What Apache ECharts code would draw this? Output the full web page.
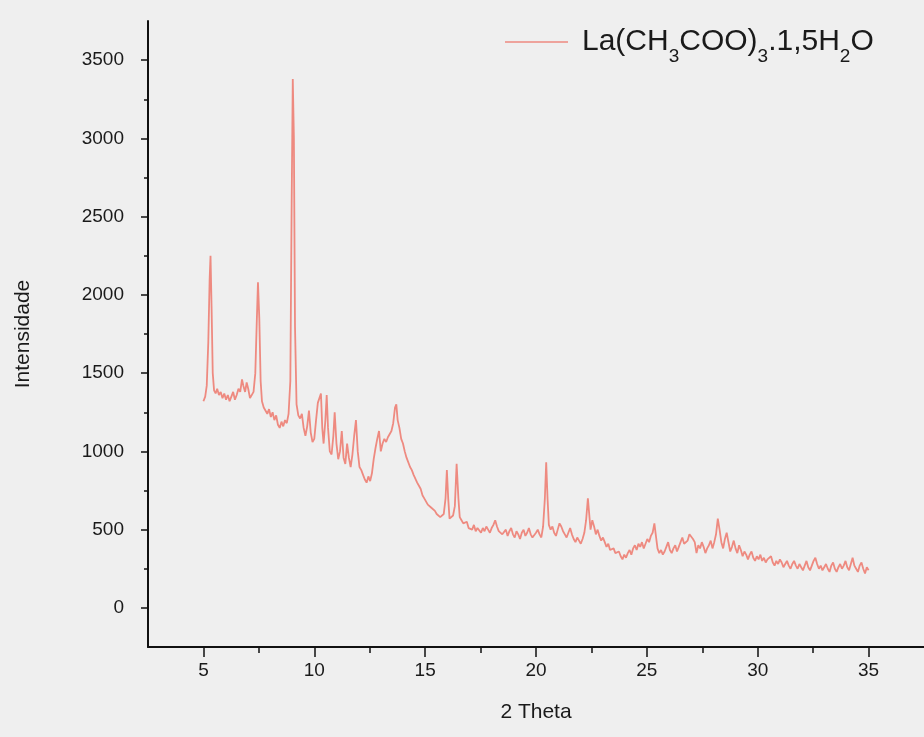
<!DOCTYPE html>
<html>
<head>
<meta charset="utf-8">
<title>DRX La(CH3COO)3.1,5H2O</title>
<script src="https://cdn.jsdelivr.net/npm/echarts@6/dist/echarts.min.js"></script>
<style>
  html, body { margin: 0; padding: 0; background: #efefef; }
  #chart { width: 924px; height: 737px; }
</style>
</head>
<body>
<div id="chart"></div>
<script>
// Diffractogram: 2θ (degrees) and measured intensity
const twoTheta = [
  5.00, 5.08, 5.15, 5.22, 5.28, 5.32, 5.37, 5.42, 5.48, 5.55, 5.62, 5.70, 5.78, 5.86, 5.94,
  6.02, 6.10, 6.18, 6.26, 6.34, 6.42, 6.50, 6.58, 6.66, 6.74, 6.80, 6.88, 6.95,
  7.02, 7.10, 7.18, 7.26, 7.34, 7.40, 7.46, 7.52, 7.58, 7.64, 7.72, 7.80, 7.88, 7.96,
  8.04, 8.12, 8.20, 8.28, 8.36, 8.44, 8.52, 8.60, 8.68, 8.76, 8.84, 8.92, 8.98,
  9.03, 9.08, 9.13, 9.20, 9.28, 9.36, 9.44, 9.52, 9.60, 9.68, 9.76, 9.84, 9.92,
  10.00, 10.08, 10.16, 10.24, 10.30, 10.36, 10.42, 10.50, 10.56, 10.62, 10.70, 10.78, 10.86, 10.92,
  11.00, 11.08, 11.16, 11.24, 11.32, 11.40, 11.48, 11.56, 11.64, 11.72, 11.80, 11.88, 11.96,
  12.04, 12.12, 12.20, 12.28, 12.36, 12.44, 12.52, 12.60, 12.68, 12.76, 12.84, 12.92,
  13.00, 13.08, 13.16, 13.24, 13.32, 13.40, 13.48, 13.56, 13.64, 13.70, 13.76, 13.84, 13.92,
  14.00, 14.08, 14.16, 14.24, 14.32, 14.40, 14.48, 14.56, 14.64, 14.72, 14.80, 14.88, 14.96,
  15.04, 15.12, 15.20, 15.28, 15.36, 15.44, 15.52, 15.60, 15.68, 15.76, 15.84, 15.92, 15.98,
  16.04, 16.10, 16.18, 16.26, 16.34, 16.42, 16.50, 16.56, 16.64, 16.72, 16.80, 16.88, 16.96,
  17.04, 17.12, 17.20, 17.28, 17.36, 17.44, 17.52, 17.60, 17.68, 17.76, 17.84, 17.92,
  18.00, 18.08, 18.16, 18.24, 18.32, 18.40, 18.48, 18.56, 18.64, 18.72, 18.80, 18.88, 18.96,
  19.04, 19.12, 19.20, 19.28, 19.36, 19.44, 19.52, 19.60, 19.68, 19.76, 19.84, 19.92,
  20.00, 20.08, 20.16, 20.24, 20.32, 20.40, 20.46, 20.52, 20.58, 20.66, 20.74, 20.82, 20.90, 20.98,
  21.06, 21.14, 21.22, 21.30, 21.38, 21.46, 21.54, 21.62, 21.70, 21.78, 21.86, 21.94,
  22.02, 22.10, 22.18, 22.26, 22.34, 22.40, 22.46, 22.54, 22.62, 22.70, 22.78, 22.86, 22.94,
  23.02, 23.10, 23.18, 23.26, 23.34, 23.42, 23.50, 23.58, 23.66, 23.74, 23.82, 23.90, 23.98,
  24.06, 24.14, 24.22, 24.30, 24.38, 24.46, 24.54, 24.62, 24.70, 24.78, 24.86, 24.94,
  25.02, 25.10, 25.18, 25.26, 25.34, 25.40, 25.48, 25.56, 25.64, 25.72, 25.80, 25.88, 25.96,
  26.04, 26.12, 26.20, 26.28, 26.36, 26.44, 26.52, 26.60, 26.68, 26.76, 26.84, 26.92,
  27.00, 27.08, 27.16, 27.24, 27.32, 27.40, 27.48, 27.56, 27.64, 27.72, 27.80, 27.88, 27.96,
  28.04, 28.12, 28.20, 28.28, 28.36, 28.44, 28.52, 28.60, 28.68, 28.76, 28.84, 28.92,
  29.00, 29.08, 29.16, 29.24, 29.32, 29.40, 29.48, 29.56, 29.64, 29.72, 29.80, 29.88, 29.96,
  30.04, 30.12, 30.20, 30.28, 30.36, 30.44, 30.52, 30.60, 30.68, 30.76, 30.84, 30.92,
  31.00, 31.08, 31.16, 31.24, 31.32, 31.40, 31.48, 31.56, 31.64, 31.72, 31.80, 31.88, 31.96,
  32.04, 32.12, 32.20, 32.28, 32.36, 32.44, 32.52, 32.60, 32.68, 32.76, 32.84, 32.92,
  33.00, 33.08, 33.16, 33.24, 33.32, 33.40, 33.48, 33.56, 33.64, 33.72, 33.80, 33.88, 33.96,
  34.04, 34.12, 34.20, 34.28, 34.36, 34.44, 34.52, 34.60, 34.68, 34.76, 34.84, 34.92, 35.00
];

const intensity = [
  1320, 1350, 1420, 1700, 2100, 2250, 1900, 1500, 1390, 1370, 1400, 1360, 1380, 1340, 1370,
  1330, 1360, 1320, 1350, 1380, 1330, 1360, 1400, 1380, 1460, 1420, 1380, 1440,
  1400, 1340, 1330, 1380, 1500, 1800, 2080, 1850, 1450, 1320, 1280, 1290, 1240, 1270,
  1220, 1250, 1200, 1230, 1170, 1150, 1190, 1160, 1200, 1180, 1240, 1450, 2600,
  3380, 3000, 1800, 1300, 1230, 1210, 1240, 1150, 1100, 1160, 1260, 1120, 1060,
  1080, 1200, 1310, 1300, 1370, 1150, 1050, 1200, 1360, 1150, 1000, 980, 1100, 1250,
  1050, 950, 1000, 1130, 960, 920, 1050, 960, 900, 980, 1100, 1200, 1000,
  900, 880, 850, 820, 800, 840, 810, 860, 950, 1020, 1080, 1130,
  1000, 1050, 1080, 1060, 1090, 1100, 1130, 1180, 1280, 1300, 1200, 1150, 1080,
  1050, 1000, 960, 950, 900, 880, 850, 860, 800, 780, 760, 720, 700,
  690, 660, 650, 640, 630, 620, 600, 610, 580, 590, 600, 700, 880,
  700, 570, 560, 590, 650, 920, 700, 580, 560, 540, 530, 550, 510,
  520, 500, 530, 490, 510, 500, 480, 510, 490, 520, 500, 480,
  510, 530, 560, 520, 490, 500, 470, 480, 500, 460, 490, 510, 470,
  450, 490, 470, 440, 480, 500, 460, 480, 510, 470, 450, 440,
  480, 500, 470, 450, 520, 700, 930, 700, 530, 500, 520, 480, 460, 500,
  540, 520, 490, 470, 450, 480, 510, 470, 440, 420, 450, 430,
  410, 440, 480, 560, 700, 600, 500, 560, 520, 470, 500, 460, 430,
  450, 420, 390, 410, 370, 360, 380, 350, 340, 360, 330, 310, 340,
  320, 350, 370, 340, 380, 400, 370, 410, 390, 420, 380, 410,
  440, 420, 460, 480, 540, 470, 380, 350, 370, 340, 360, 390, 420,
  370, 350, 380, 400, 360, 390, 420, 450, 410, 400, 430, 470,
  480, 440, 420, 350, 400, 380, 420, 390, 350, 380, 400, 430, 380,
  420, 470, 570, 500, 420, 380, 440, 480, 420, 360, 390, 430,
  380, 350, 400, 370, 330, 360, 340, 310, 340, 360, 320, 300, 330,
  310, 340, 300, 320, 290, 310, 300, 330, 290, 270, 300, 280,
  310, 290, 260, 280, 300, 270, 250, 280, 300, 270, 250, 280, 260,
  240, 270, 300, 260, 240, 270, 300, 320, 280, 250, 270, 240,
  260, 280, 250, 230, 270, 290, 250, 230, 260, 280, 250, 270, 300,
  260, 240, 280, 320, 270, 250, 230, 270, 290, 250, 220, 260, 240
];

// Axis tick positions and labels
const xMajorTicks = [5, 10, 15, 20, 25, 30, 35];
const xMinorTicks = [7.5, 12.5, 17.5, 22.5, 27.5, 32.5];
const yMajorTicks = [0, 500, 1000, 1500, 2000, 2500, 3000, 3500];
const yMinorTicks = [250, 750, 1250, 1750, 2250, 2750, 3250];

const seriesName = 'La(CH3COO)3.1,5H2O';

const points = twoTheta.map((t, i) => [t, intensity[i]]);

const font = '"Liberation Sans", Arial, sans-serif';
const ink = '#1a1a1a';
const lineColor = '#ee8a80';

const chart = echarts.init(document.getElementById('chart'));

const baseX = {
  type: 'value', min: 2.5, max: 37.5,
  splitLine: { show: false }
};
const baseY = {
  type: 'value', min: -250, max: 3750,
  splitLine: { show: false }
};

chart.setOption({
  backgroundColor: '#efefef',
  animation: false,
  grid: { left: 148, right: -4, top: 21, bottom: 90, containLabel: false },
  legend: {
    data: [seriesName],
    left: 505, top: 27, padding: 0,
    icon: 'rect', itemWidth: 63, itemHeight: 1.5,
    itemStyle: { color: lineColor },
    formatter: () => '{a|La(CH}{s|3}{n|COO)}{s|3}{n|.1,5H}{s|2}{n|O}',
    textStyle: {
      color: ink,
      rich: {
        a: { fontSize: 30, fontFamily: font, color: ink, padding: [0, 0, 0, 9] },
        n: { fontSize: 30, fontFamily: font, color: ink },
        s: { fontSize: 19, fontFamily: font, color: ink, padding: [30, 0, 0, 0] }
      }
    }
  },
  xAxis: [
    Object.assign({}, baseX, {
      position: 'bottom',
      name: '2 Theta', nameLocation: 'middle', nameGap: 55,
      nameTextStyle: { fontSize: 21, fontFamily: font, color: ink },
      axisLine: { show: true, onZero: false, lineStyle: { color: '#111', width: 2 } },
      axisTick: { show: true, inside: false, length: 10, customValues: xMajorTicks,
                  lineStyle: { color: '#111', width: 1.5 } },
      axisLabel: { show: true, margin: 14, fontSize: 19, fontFamily: font, color: ink,
                   customValues: xMajorTicks }
    }),
    Object.assign({}, baseX, {
      position: 'bottom',
      axisLine: { show: false, onZero: false },
      axisTick: { show: true, inside: false, length: 6, customValues: xMinorTicks,
                  lineStyle: { color: '#111', width: 1.5 } },
      axisLabel: { show: false }
    })
  ],
  yAxis: [
    Object.assign({}, baseY, {
      position: 'left',
      name: 'Intensidade', nameLocation: 'middle', nameGap: 114,
      nameTextStyle: { fontSize: 21, fontFamily: font, color: ink },
      axisLine: { show: true, onZero: false, lineStyle: { color: '#111', width: 2 } },
      axisTick: { show: true, inside: false, length: 7, customValues: yMajorTicks,
                  lineStyle: { color: '#111', width: 1.5 } },
      axisLabel: { show: true, margin: 24, fontSize: 19, fontFamily: font, color: ink,
                   customValues: yMajorTicks, formatter: v => String(v) }
    }),
    Object.assign({}, baseY, {
      position: 'left',
      axisLine: { show: false, onZero: false },
      axisTick: { show: true, inside: false, length: 4, customValues: yMinorTicks,
                  lineStyle: { color: '#111', width: 1.5 } },
      axisLabel: { show: false }
    })
  ],
  series: [{
    name: seriesName,
    type: 'line',
    xAxisIndex: 0, yAxisIndex: 0,
    data: points,
    showSymbol: false,
    symbol: 'none',
    lineStyle: { color: lineColor, width: 1.8 },
    itemStyle: { color: lineColor },
    clip: true
  }]
});
</script>
</body>
</html>
